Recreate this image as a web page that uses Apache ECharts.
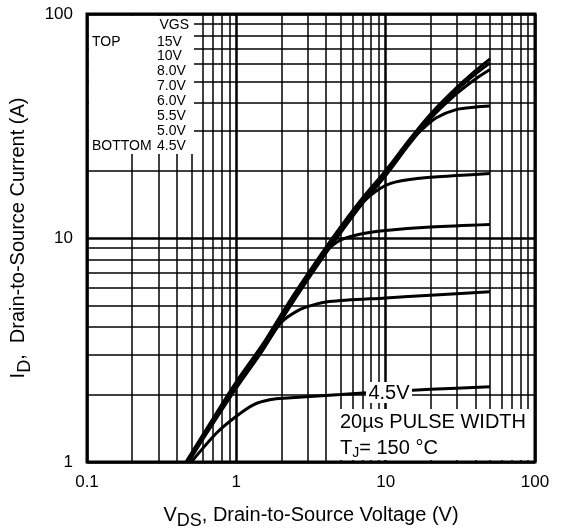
<!DOCTYPE html>
<html>
<head>
<meta charset="utf-8">
<script src="https://cdn.jsdelivr.net/npm/echarts@6/dist/echarts.min.js"></script>
<style>
  html, body { margin: 0; padding: 0; background: #fff; }
  #chart { width: 563px; height: 528px; }
</style>
</head>
<body>
<div id="chart"></div>
<script>
  // VGS curves, points are [VDS (V), ID (A)]
  const vgs15 = [[0.46, 1.0], [0.6, 1.33], [1, 2.28], [1.5, 3.35], [2.2, 5.05], [3, 6.9], [4.45, 10.1], [7, 15.1], [10, 20], [14.5, 27.6], [20, 35.8], [30, 47], [40, 55.8], [50, 63]];
  const vgs10 = [[0.47, 1.0], [0.6, 1.3], [1, 2.2], [1.5, 3.25], [2.2, 4.9], [3, 6.7], [4.45, 9.8], [7, 14.7], [10, 19.5], [14.5, 27], [20, 35], [30, 45.8], [40, 54], [50, 60.5]];
  const vgs8 = [[0.48, 1.0], [0.6, 1.27], [1, 2.14], [1.5, 3.15], [2.2, 4.75], [3, 6.5], [4.45, 9.5], [7, 14.3], [10, 19], [14.5, 26.4], [20, 34.2], [30, 44.2], [40, 51.3], [50, 56.5]];
  const vgs7 = [[0.47, 1.0], [0.6, 1.3], [1, 2.2], [1.5, 3.25], [2.2, 4.9], [3, 6.7], [4.45, 9.8], [7, 14.7], [10, 19.5], [14.5, 26.8], [18, 31], [22, 34.5], [30, 37.5], [40, 38.4], [50, 38.8]];
  const vgs6 = [[0.47, 1.0], [0.6, 1.3], [1, 2.2], [1.5, 3.25], [2.2, 4.9], [3, 6.7], [4.45, 9.6], [6, 12.9], [8, 15.6], [10.7, 17.5], [17, 18.5], [30, 19], [50, 19.4]];
  const vgs55 = [[0.47, 1.0], [0.6, 1.3], [1, 2.2], [1.5, 3.25], [2.2, 4.85], [3, 6.6], [4, 8.7], [5, 9.8], [6.7, 10.4], [10, 10.8], [20, 11.2], [50, 11.5]];
  const vgs5 = [[0.47, 1.0], [0.6, 1.3], [1, 2.2], [1.5, 3.2], [2, 4.2], [2.6, 4.75], [3.2, 5.0], [4.2, 5.2], [10, 5.4], [20, 5.55], [50, 5.75]];
  const vgs45 = [[0.5, 1.0], [0.74, 1.35], [1.0, 1.6], [1.3, 1.8], [1.7, 1.9], [2.2, 1.93], [5, 2.0], [10, 2.06], [20, 2.11], [50, 2.17]];

  // log grid lines between the decades
  const xMinor = [0.2, 0.3, 0.4, 0.5, 0.6, 0.7, 0.8, 0.9, 2, 3, 4, 5, 6, 7, 8, 9, 20, 30, 40, 50, 60, 70, 80, 90];
  const yMinor = [2, 3, 4, 5, 6, 7, 8, 9, 20, 30, 40, 50, 60, 70, 80, 90];

  const legendNames = ['15V', '10V', '8.0V', '7.0V', '6.0V', '5.5V', '5.0V', '4.5V'];
  const curves = [vgs15, vgs10, vgs8, vgs7, vgs6, vgs55, vgs5, vgs45];

  const FONT = '"Liberation Sans", Arial, sans-serif';

  const chart = echarts.init(document.getElementById('chart'));

  const series = [
    {
      name: 'grid',
      type: 'line',
      data: [],
      silent: true,
      z: 1,
      markLine: {
        silent: true,
        symbol: 'none',
        animation: false,
        label: { show: false },
        lineStyle: { color: '#000', width: 1.5, type: 'solid' },
        data: xMinor.map(v => ({ xAxis: v })).concat(yMinor.map(v => ({ yAxis: v })))
      }
    }
  ];
  curves.forEach((d, i) => {
    series.push({
      name: legendNames[i],
      type: 'line',
      data: d,
      smooth: 0.3,
      showSymbol: false,
      symbol: 'none',
      z: 3,
      lineStyle: { color: '#000', width: 3 }
    });
  });

  // legend text block (top-left)
  const legendY = [42, 56, 71, 86, 101, 116, 131, 146];
  const graphic = [
    { type: 'rect', z: 50, shape: { x: 89, y: 16, width: 105, height: 138 }, style: { fill: '#fff' } },
    { type: 'text', z: 51, style: { text: 'VGS', x: 189, y: 25, align: 'right', verticalAlign: 'middle', font: '14px ' + FONT, fill: '#000' } },
    { type: 'text', z: 51, style: { text: 'TOP', x: 92, y: 42, verticalAlign: 'middle', font: '14px ' + FONT, fill: '#000' } },
    { type: 'text', z: 51, style: { text: 'BOTTOM', x: 92, y: 146, verticalAlign: 'middle', font: '14px ' + FONT, fill: '#000' } },
    // 4.5V label on the curve
    { type: 'rect', z: 50, shape: { x: 366, y: 382, width: 46, height: 21 }, style: { fill: '#fff' } },
    { type: 'text', z: 51, style: { text: '4.5V', x: 389, y: 393, align: 'center', verticalAlign: 'middle', font: '20px ' + FONT, fill: '#000' } },
    // pulse width box
    { type: 'rect', z: 50, shape: { x: 334, y: 409, width: 199, height: 51 }, style: { fill: '#fff' } },
    { type: 'text', z: 51, style: { text: '20µs PULSE WIDTH', x: 340, y: 422, verticalAlign: 'middle', font: '20px ' + FONT, fill: '#000' } },
    {
      type: 'text', z: 51,
      style: {
        text: 'T{s|J}= 150 °C', x: 340, y: 448, verticalAlign: 'middle', font: '20px ' + FONT, fill: '#000',
        rich: { s: { fontSize: 14, fontFamily: FONT, padding: [10, 0, 0, 0] } }
      }
    }
  ];
  legendNames.forEach((n, i) => {
    graphic.push({ type: 'text', z: 51, style: { text: n, x: 157, y: legendY[i], verticalAlign: 'middle', font: '14px ' + FONT, fill: '#000' } });
  });

  chart.setOption({
    animation: false,
    backgroundColor: '#fff',
    textStyle: { fontFamily: FONT },
    grid: {
      left: 87, top: 14, width: 448, height: 448,
      outerBoundsMode: 'none',
      containLabel: false,
      show: true, borderColor: '#000', borderWidth: 3, backgroundColor: 'rgba(0,0,0,0)', z: 60
    },
    xAxis: {
      type: 'log',
      logBase: 10,
      min: 0.1,
      max: 100,
      axisLine: { show: false },
      axisTick: { show: false },
      axisLabel: { color: '#000', fontSize: 17, margin: 12 },
      splitLine: { show: true, lineStyle: { color: '#000', width: 2.5 } },
      name: 'V{s|DS}, Drain-to-Source Voltage (V)',
      nameLocation: 'middle',
      nameGap: 38,
      nameTextStyle: {
        color: '#000', fontSize: 20, fontFamily: FONT,
        rich: { s: { fontSize: 18, fontFamily: FONT, padding: [12, 0, 0, 0] } }
      }
    },
    yAxis: {
      type: 'log',
      logBase: 10,
      min: 1,
      max: 100,
      axisLine: { show: false },
      axisTick: { show: false },
      axisLabel: { color: '#000', fontSize: 17, margin: 14 },
      splitLine: { show: true, lineStyle: { color: '#000', width: 2.5 } },
      name: 'I{s|D},  Drain-to-Source Current (A)',
      nameLocation: 'middle',
      nameGap: 46,
      nameTextStyle: {
        color: '#000', fontSize: 20, fontFamily: FONT,
        rich: { s: { fontSize: 18, fontFamily: FONT, padding: [12, 0, 0, 0] } }
      }
    },
    graphic: graphic,
    series: series
  });
</script>
</body>
</html>
